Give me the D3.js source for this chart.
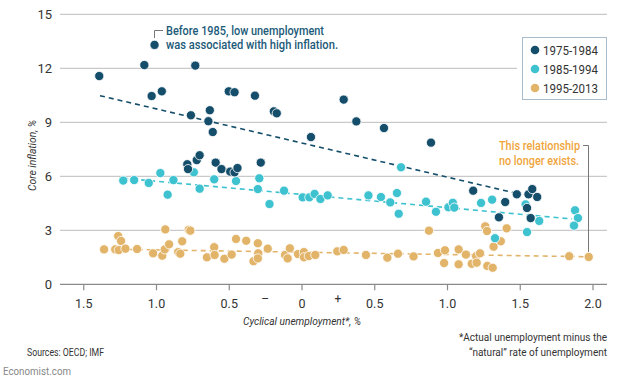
<!DOCTYPE html>
<html><head><meta charset="utf-8">
<script src="https://cdn.jsdelivr.net/npm/d3@7"></script>
<style>
body{margin:0;background:#fff;}
svg{display:block;font-family:Roboto,"Open Sans",sans-serif;}
</style></head>
<body>
<svg id="chart" width="621" height="379"></svg>
<script>
// ---- data (cyclical unemployment, core inflation) ----
const dark_x = [-1.39,-1.08,-1.01,-1.03,-0.96,-0.73,-0.76,-0.63,-0.64,-0.61,-0.50,-0.46,-0.32,-0.19,-0.17,0.065,0.29,0.377,0.567,0.89,
  -0.785,-0.78,-0.72,-0.70,-0.59,-0.55,-0.49,-0.46,-0.44,-0.28,1.18,1.40,1.357,1.48,1.56,1.586,1.62,1.55,1.575];
const dark_y = [11.57,12.18,13.3,10.46,10.72,12.15,9.39,9.67,9.06,8.46,10.72,10.67,10.48,9.61,9.50,8.18,10.26,9.05,8.68,7.87,
  6.67,6.40,6.9,7.17,6.76,6.4,6.26,6.22,6.46,6.76,5.2,4.57,3.72,5.0,5.0,5.29,4.85,4.24,3.68];
const cyan_x = [-1.225,-1.15,-1.05,-0.97,-0.92,-0.88,-0.74,-0.70,-0.60,-0.45,-0.30,-0.29,-0.22,-0.12,0.008,0.054,0.09,0.13,0.18,
  0.46,0.546,0.61,0.656,0.668,0.684,0.856,0.924,1.01,1.04,1.05,1.234,1.31,1.33,1.54,1.55,1.634,1.88,1.90,1.873];
const cyan_y = [5.76,5.79,5.63,6.18,4.98,5.79,6.22,5.31,5.83,5.74,5.29,5.89,4.46,5.2,4.83,4.83,5.02,4.74,4.94,
  4.94,4.85,4.55,5.07,3.92,6.5,4.59,4.03,4.28,4.53,4.26,4.52,4.7,2.56,4.44,2.9,3.52,4.11,3.68,3.26];
const orange_x = [-1.357,-1.28,-1.26,-1.24,-1.256,-1.21,-1.13,-1.02,-0.957,-0.94,-0.936,-0.91,-0.847,-0.833,-0.82,-0.775,-0.764,
  -0.65,-0.60,-0.597,-0.53,-0.48,-0.45,-0.38,-0.33,-0.30,-0.297,-0.30,-0.232,-0.113,-0.095,-0.08,-0.024,0.017,0.017,0.05,0.095,
  0.246,0.29,0.443,0.59,0.663,0.77,0.876,0.938,0.986,0.98,1.08,1.08,1.13,1.17,1.2,1.204,1.227,1.263,1.275,1.277,1.314,1.32,1.37,1.41,1.84,1.974];
const orange_y = [1.94,1.94,2.68,2.41,1.9,1.98,1.96,1.72,1.59,1.94,3.05,2.22,1.79,1.7,2.39,3.03,2.98,
  1.5,2.06,1.63,1.42,1.65,2.52,2.42,1.28,2.28,1.72,1.44,1.98,1.63,1.44,2.0,1.68,1.79,1.5,1.57,1.63,
  1.83,1.91,1.63,1.48,1.7,1.55,2.98,1.74,1.89,1.18,1.94,1.11,1.65,1.14,1.56,1.2,1.72,3.22,2.96,1.02,0.92,2.09,2.39,3.11,1.56,1.52];
// trend lines: [x0, y0, x1, y1]
const dark_trend = [-1.385, 10.48, 1.49, 5.03];
const cyan_trend = [-1.225, 5.89, 1.86, 3.63];
const orange_trend = [-1.373, 1.96, 1.97, 1.53];
const series = ["1975-1984","1985-1994","1995-2013"];
const colors = ["#144e6a","#3ec2d0","#e2b46a"];
const yTicks = [0,3,6,9,12,15];
const xTicks = [-1.5,-1.0,-0.5,0,0.5,1.0,1.5,2.0];
const xTickLabels = ["1.5","1.0","0.5","0","0.5","1.0","1.5","2.0"];

const svg = d3.select("#chart");
const x = d3.scaleLinear().domain([0, 2]).range([301.5, 592.5]);
const y = d3.scaleLinear().domain([0, 15]).range([284.3, 14.3]);
const left = 60, right = 607;

function fit(sel, w) { return sel.attr("textLength", w).attr("lengthAdjust", "spacingAndGlyphs"); }

// gridlines
const grid = svg.append("g");
yTicks.forEach(t => {
  grid.append("line").attr("x1", left).attr("x2", t === 12 ? 517 : right)
    .attr("y1", y(t)).attr("y2", y(t))
    .attr("stroke", t === 0 ? "#8a8a8a" : "#c9c9c9").attr("stroke-width", 1.2);
  grid.append("text").attr("x", 52).attr("y", y(t)).attr("dy", "0.35em")
    .attr("text-anchor", "end").attr("font-size", 13).attr("fill", "#333").text(t);
});

// x axis ticks
const xAxis = d3.axisBottom(x).tickValues(xTicks).tickSize(6)
  .tickFormat((d, i) => xTickLabels[i]);
const gx = svg.append("g").attr("transform", `translate(0,${y(0)})`).call(xAxis);
gx.select(".domain").remove();
gx.selectAll(".tick line").attr("stroke", "#8a8a8a").attr("stroke-width", 1.2);
gx.selectAll(".tick text").attr("font-size", 12.5).attr("fill", "#333").attr("dy", "1.15em")
  .attr("font-family", "Roboto,sans-serif");
svg.append("text").attr("x", x(-0.25)).attr("y", 303).attr("text-anchor", "middle")
  .attr("font-size", 12).attr("fill", "#333").text("–");
svg.append("text").attr("x", x(0.25)).attr("y", 303).attr("text-anchor", "middle")
  .attr("font-size", 12).attr("fill", "#333").text("+");

// axis titles
fit(svg.append("text").attr("x", 243).attr("y", 325)
  .attr("font-size", 11.5).attr("font-style", "italic").attr("fill", "#333")
  .text("Cyclical unemployment*, %"), 118);
fit(svg.append("text").attr("transform", "translate(36,191) rotate(-90)")
  .attr("font-size", 11.5).attr("font-style", "italic").attr("fill", "#333")
  .text("Core inflation, %"), 71);

// trend lines
[[dark_trend, colors[0]], [cyan_trend, colors[1]], [orange_trend, colors[2]]].forEach(([t, c]) => {
  svg.append("line").attr("x1", x(t[0])).attr("y1", y(t[1])).attr("x2", x(t[2])).attr("y2", y(t[3]))
    .attr("stroke", c).attr("stroke-width", 1.6).attr("stroke-dasharray", "5,4");
});

// annotation leader lines
svg.append("path").attr("d", `M163,30.5H154.5V38`).attr("fill", "none").attr("stroke", "#777").attr("stroke-width", 1);
svg.append("path").attr("d", `M583,145.5H588.5V252`).attr("fill", "none").attr("stroke", "#777").attr("stroke-width", 1);

// dots
const sets = [[orange_x, orange_y, colors[2]], [cyan_x, cyan_y, colors[1]], [dark_x, dark_y, colors[0]]];
sets.forEach(([xs, ys, c]) => {
  svg.append("g").selectAll("circle").data(xs.map((v, i) => [v, ys[i]])).join("circle")
    .attr("cx", d => x(d[0])).attr("cy", d => y(d[1])).attr("r", 4.6)
    .attr("fill", c).attr("stroke", "#fff").attr("stroke-width", 0.8);
});

// annotations
const a1 = svg.append("text").attr("font-size", 12.5).attr("font-weight", 500).attr("fill", "#1b5a78");
fit(a1.append("tspan").attr("x", 166).attr("y", 35).text("Before 1985, low unemployment"), 158);
fit(a1.append("tspan").attr("x", 166).attr("y", 49).text("was associated with high inflation."), 172);
const a2 = svg.append("text").attr("font-size", 12.5).attr("font-weight", 500).attr("fill", "#f0a53c");
fit(a2.append("tspan").attr("x", 499).attr("y", 150).text("This relationship"), 81);
fit(a2.append("tspan").attr("x", 499).attr("y", 165).text("no longer exists."), 80);

// legend
svg.append("rect").attr("x", 522.5).attr("y", 37.5).attr("width", 84).attr("height", 62)
  .attr("fill", "#fff").attr("stroke", "#a9bccb").attr("stroke-width", 1);
series.forEach((s, i) => {
  const ly = 50 + i * 19;
  svg.append("circle").attr("cx", 535).attr("cy", ly).attr("r", 4.3).attr("fill", colors[i]);
  fit(svg.append("text").attr("x", 543).attr("y", ly).attr("dy", "0.36em").attr("font-size", 13)
    .attr("fill", "#333").text(s), 55);
});

// footnotes
const fn = svg.append("text").attr("font-size", 10).attr("fill", "#333").attr("text-anchor", "end");
fn.append("tspan").attr("x", 607).attr("y", 341).text("*Actual unemployment minus the");
fn.append("tspan").attr("x", 607).attr("y", 356).text("\u201Cnatural\u201D rate of unemployment");
fit(svg.append("text").attr("x", 27).attr("y", 356).attr("font-size", 11).attr("fill", "#333").text("Sources: OECD; IMF"), 77);
fit(svg.append("text").attr("x", 3).attr("y", 375).attr("font-size", 11.5).attr("fill", "#888").text("Economist.com"), 68);
</script>
</body></html>
